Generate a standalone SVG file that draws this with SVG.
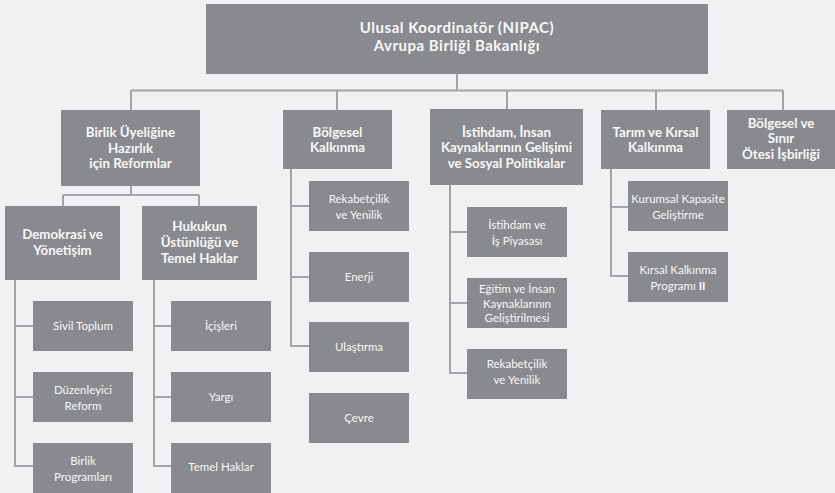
<svg xmlns="http://www.w3.org/2000/svg" width="835" height="493" viewBox="0 0 835 493">
<style>
.bg{fill:#f0f1f3}
.box{fill:#898a8d}
.ln{stroke:#a3a4a7;stroke-width:2;fill:none}
text{fill:#f7f7f7;font-family:Lato,"Open Sans","DejaVu Sans",sans-serif;text-anchor:middle}
.t0{font-size:15px;font-weight:bold;letter-spacing:0.5px}
.t1{font-size:13.3px;font-weight:bold}
.t2{font-size:11.5px}
</style>
<rect class="bg" x="0" y="0" width="835" height="493"/>
<g id="connectors">
<path class="ln" d="M457 74V90.5M131 90.5H783M131 90.5V110M337 90.5V110M507 90.5V109M656 90.5V110M783 90.5V110"/>
<path class="ln" d="M131 186V195M63 195H199M63 195V206M199 195V206"/>
<path class="ln" d="M15 280V466H33M15 326H33M15 397H33"/>
<path class="ln" d="M154 280V466H171M154 326H171M154 397H171"/>
<path class="ln" d="M291 169V346H309M291 206H309M291 277H309"/>
<path class="ln" d="M450 185V373H467M450 232H467M450 303H467"/>
<path class="ln" d="M611 169V276H628M611 207H628"/>
</g>
<g id="root"><rect class="box" x="206" y="4" width="502" height="70"/>
<text class="t0" x="457" y="33">Ulusal Koordinatör (NIPAC)</text>
<text class="t0" x="457" y="51">Avrupa Birliği Bakanlığı</text></g>
<g id="reformlar"><rect class="box" x="61" y="110" width="139" height="76"/>
<text class="t1" x="130.5" y="137">Birlik Üyeliğine</text>
<text class="t1" x="130.5" y="152.5">Hazırlık</text>
<text class="t1" x="130.5" y="168">için Reformlar</text></g>
<g id="bolgesel"><rect class="box" x="283" y="110" width="109" height="59"/>
<text class="t1" x="337.5" y="136.5">Bölgesel</text>
<text class="t1" x="337.5" y="152">Kalkınma</text></g>
<g id="istihdam"><rect class="box" x="430" y="109" width="153" height="76"/>
<text class="t1" x="506.5" y="136.5">İstihdam, İnsan</text>
<text class="t1" x="506.5" y="152">Kaynaklarının Gelişimi</text>
<text class="t1" x="506.5" y="167.5">ve Sosyal Politikalar</text></g>
<g id="tarim"><rect class="box" x="601" y="110" width="109" height="59"/>
<text class="t1" x="655.5" y="136.5">Tarım ve Kırsal</text>
<text class="t1" x="655.5" y="152">Kalkınma</text></g>
<g id="sinir"><rect class="box" x="727" y="110" width="108" height="59"/>
<text class="t1" x="781" y="127.5">Bölgesel ve</text>
<text class="t1" x="781" y="143">Sınır</text>
<text class="t1" x="781" y="158.5">Ötesi İşbirliği</text></g>
<g id="demokrasi"><rect class="box" x="5" y="206" width="115" height="74"/>
<text class="t1" x="62.5" y="239">Demokrasi ve</text>
<text class="t1" x="62.5" y="255">Yönetişim</text></g>
<g id="hukukun"><rect class="box" x="142" y="206" width="115" height="74"/>
<text class="t1" x="199.5" y="231">Hukukun</text>
<text class="t1" x="199.5" y="247">Üstünlüğü ve</text>
<text class="t1" x="199.5" y="263">Temel Haklar</text></g>
<g id="sivil"><rect class="box" x="33" y="301" width="100" height="50"/>
<text class="t2" x="83" y="330">Sivil Toplum</text></g>
<g id="duzenleyici"><rect class="box" x="33" y="372" width="100" height="50"/>
<text class="t2" x="83" y="394">Düzenleyici</text>
<text class="t2" x="83" y="410">Reform</text></g>
<g id="birlikprog"><rect class="box" x="33" y="443" width="100" height="50"/>
<text class="t2" x="83" y="465">Birlik</text>
<text class="t2" x="83" y="481">Programları</text></g>
<g id="icisleri"><rect class="box" x="171" y="301" width="100" height="50"/>
<text class="t2" x="221" y="330">İçişleri</text></g>
<g id="yargi"><rect class="box" x="171" y="372" width="100" height="50"/>
<text class="t2" x="221" y="401">Yargı</text></g>
<g id="temelhaklar"><rect class="box" x="171" y="443" width="100" height="50"/>
<text class="t2" x="221" y="471">Temel Haklar</text></g>
<g id="rekabet1"><rect class="box" x="309" y="181" width="100" height="50"/>
<text class="t2" x="359" y="203">Rekabetçilik</text>
<text class="t2" x="359" y="219">ve Yenilik</text></g>
<g id="enerji"><rect class="box" x="309" y="252" width="100" height="50"/>
<text class="t2" x="359" y="281">Enerji</text></g>
<g id="ulastirma"><rect class="box" x="309" y="322" width="100" height="50"/>
<text class="t2" x="359" y="351">Ulaştırma</text></g>
<g id="cevre"><rect class="box" x="309" y="393" width="100" height="50"/>
<text class="t2" x="359" y="422">Çevre</text></g>
<g id="isgucu"><rect class="box" x="467" y="207" width="100" height="50"/>
<text class="t2" x="517" y="229">İstihdam ve</text>
<text class="t2" x="517" y="245">İş Piyasası</text></g>
<g id="egitim"><rect class="box" x="467" y="278" width="100" height="50"/>
<text class="t2" x="517" y="293">Eğitim ve İnsan</text>
<text class="t2" x="517" y="307.5">Kaynaklarının</text>
<text class="t2" x="517" y="322">Geliştirilmesi</text></g>
<g id="rekabet2"><rect class="box" x="467" y="349" width="100" height="50"/>
<text class="t2" x="517" y="368">Rekabetçilik</text>
<text class="t2" x="517" y="384">ve Yenilik</text></g>
<g id="kurumsal"><rect class="box" x="628" y="181" width="100" height="50"/>
<text class="t2" x="678" y="203">Kurumsal Kapasite</text>
<text class="t2" x="678" y="219">Geliştirme</text></g>
<g id="kirsal"><rect class="box" x="628" y="252" width="100" height="50"/>
<text class="t2" x="678" y="274">Kırsal Kalkınma</text>
<text class="t2" x="678" y="290">Programı <tspan font-weight="bold">II</tspan></text></g>
</svg>
